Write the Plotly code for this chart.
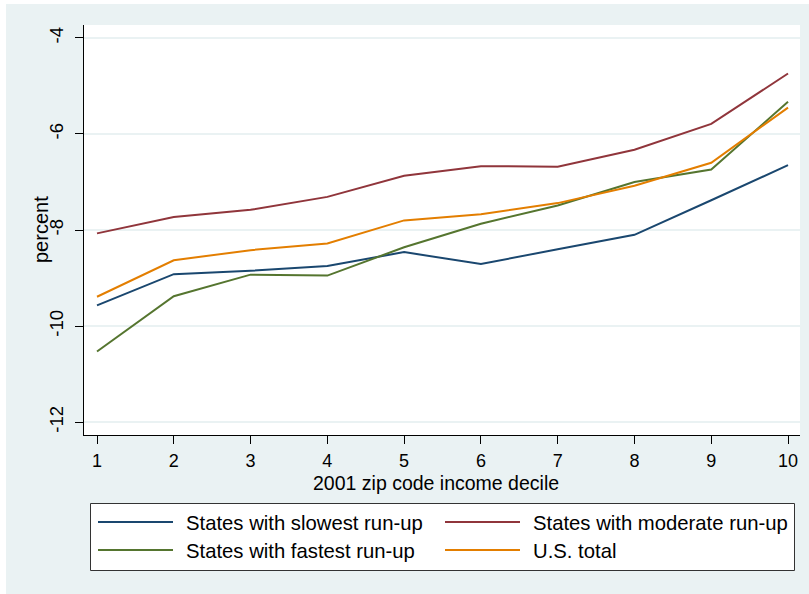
import plotly.graph_objects as go

# ---- data ----
deciles = [1, 2, 3, 4, 5, 6, 7, 8, 9, 10]
slowest = [-9.57, -8.92, -8.85, -8.75, -8.46, -8.71, -8.40, -8.10, -7.38, -6.65]
moderate = [-8.07, -7.73, -7.58, -7.31, -6.87, -6.67, -6.68, -6.33, -5.79, -4.74]
fastest = [-10.53, -9.38, -8.93, -8.95, -8.36, -7.87, -7.49, -7.00, -6.74, -5.33]
us_total = [-9.39, -8.63, -8.42, -8.28, -7.80, -7.67, -7.44, -7.08, -6.60, -5.45]

series_names = ["States with slowest run-up", "States with moderate run-up",
                "States with fastest run-up", "U.S. total"]
series_values = [slowest, moderate, fastest, us_total]
series_colors = ["#1A476F", "#90353B", "#55752F", "#E37E00"]

y_ticks = [-12, -10, -8, -6, -4]
x_ticks = deciles
x_title = "2001 zip code income decile"
y_title = "percent"

FONT = "Liberation Sans, Arial, sans-serif"
BG = "#EAF2F3"

W, H = 809, 594
L, R, T, B = 84, 800, 25, 435  # plot area in pixels


def px2x(px):
    return (px - L) / (R - L)


def py2y(py):
    return (B - py) / (B - T)


fig = go.Figure()
for name, vals, col in zip(series_names, series_values, series_colors):
    fig.add_trace(go.Scatter(x=deciles, y=vals, mode="lines", name=name,
                             line=dict(color=col, width=2), showlegend=False))

shapes = []
annotations = []

# white outer border strips (top and left)
shapes.append(dict(type="rect", xref="paper", yref="paper", x0=px2x(0), x1=px2x(W),
                   y0=py2y(0), y1=py2y(4), fillcolor="white", line=dict(width=0), layer="below"))
shapes.append(dict(type="rect", xref="paper", yref="paper", x0=px2x(0), x1=px2x(6),
                   y0=py2y(0), y1=py2y(H), fillcolor="white", line=dict(width=0), layer="below"))

# axis titles
annotations.append(dict(xref="paper", yref="paper", x=px2x(436), y=py2y(483), text=x_title,
                        showarrow=False, xanchor="center", yanchor="middle",
                        font=dict(family=FONT, size=19.5, color="black")))
annotations.append(dict(xref="paper", yref="paper", x=px2x(41), y=py2y(230), text=y_title,
                        showarrow=False, xanchor="center", yanchor="middle", textangle=-90,
                        font=dict(family=FONT, size=20, color="black")))

# legend box
shapes.append(dict(type="rect", xref="paper", yref="paper", x0=px2x(90.5), x1=px2x(794.5),
                   y0=py2y(503.5), y1=py2y(570.5), fillcolor="white",
                   line=dict(color="#333333", width=1)))
leg_pos = [(98, 173, 184, 522), (445, 520, 531, 522), (98, 173, 184, 550), (445, 520, 531, 550)]
for i, (lx0, lx1, tx, ly) in enumerate(leg_pos):
    shapes.append(dict(type="line", xref="paper", yref="paper", x0=px2x(lx0), x1=px2x(lx1),
                       y0=py2y(ly), y1=py2y(ly), line=dict(color=series_colors[i], width=2)))
    annotations.append(dict(xref="paper", yref="paper", x=px2x(tx), y=py2y(ly + 1),
                            text=series_names[i], showarrow=False, xanchor="left",
                            yanchor="middle", font=dict(family=FONT, size=20.3, color="black")))

fig.update_layout(
    width=W, height=H,
    margin=dict(l=L, r=W - R, t=T, b=H - B, pad=0),
    paper_bgcolor=BG, plot_bgcolor="white",
    showlegend=False,
    font=dict(family=FONT, color="black"),
    shapes=shapes, annotations=annotations,
    xaxis=dict(range=[0.8307, 10.156], tickmode="array", tickvals=x_ticks,
               ticktext=[str(v) for v in x_ticks],
               showgrid=False, zeroline=False, showline=True, linecolor="black", linewidth=1,
               ticks="outside", ticklen=8, tickcolor="black", tickwidth=1,
               tickfont=dict(family=FONT, size=18, color="black"), ticklabelstandoff=1,
               automargin=False, fixedrange=True),
    yaxis=dict(range=[-12.27, -3.73], tickmode="array", tickvals=y_ticks,
               ticktext=[str(v) for v in y_ticks], tickangle=-90,
               showgrid=True, gridcolor=BG, gridwidth=1.5, zeroline=False,
               showline=True, linecolor="black", linewidth=1,
               ticks="outside", ticklen=8, tickcolor="black", tickwidth=1,
               tickfont=dict(family=FONT, size=18.5, color="black"), ticklabelstandoff=5,
               automargin=False, fixedrange=True),
)

fig.write_html("out.html", post_script="document.body.style.margin='0px';",
               config={"displayModeBar": False})
